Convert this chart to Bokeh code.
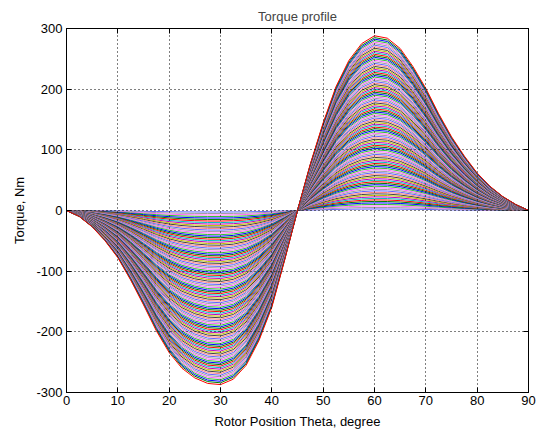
from bokeh.plotting import figure
from bokeh.models import ColumnDataSource, LinearAxis, FixedTicker, Range1d, PrintfTickFormatter
from bokeh.embed import file_html
from bokeh.resources import INLINE

# ---- data ----
theta = [0, 2.5, 5, 7.5, 10, 12.5, 15, 17.5, 20, 22.5, 25, 27.5, 30, 32.5, 35, 37.5,
         40, 42.5, 45, 47.5, 50, 52.5, 55, 57.5, 60, 62.5, 65, 67.5, 70, 72.5, 75,
         77.5, 80, 82.5, 85, 87.5, 90]
# outermost torque curve (Nm)
torque_max = [0, -10, -27, -50, -78, -115, -156, -199, -235, -261, -277, -286, -288,
              -279, -256, -215, -160, -82, 0, 77, 145, 205, 248, 276, 289, 285, 268,
              238, 202, 160, 122, 90, 62, 40, 23, 10, 0]
# peak torque of each curve of the family (Nm)
peaks = [2.5, 5, 7.5, 10, 12.5, 15, 17.5, 20, 22.5, 25, 27.5, 30, 32.5, 35, 37.5, 40,
         42.5, 45, 47.5, 50, 52.5, 55, 57.5, 60, 62.5, 65, 67.5, 70, 72.5, 75, 77.5, 80,
         82.5, 85, 87.5, 90, 92.5, 95, 97.5, 100, 102.5, 105, 107.5, 110, 112.5, 115,
         117.5, 120, 122.5, 125, 127.5, 130, 132.5, 135, 137.5, 140, 142.5, 145, 147.5,
         150, 152.5, 155, 157.5, 160, 162.5, 165, 167.5, 170, 172.5, 175, 177.5, 180,
         182.5, 185, 187.5, 190, 192.5, 195, 197.5, 200, 202.5, 205, 207.5, 210, 212.5,
         215, 217.5, 220, 222.5, 225, 227.5, 230, 232.5, 235, 237.5, 240, 242.5, 245,
         247.5, 250, 252.5, 255, 257.5, 260, 262.5, 265, 267.5, 270, 272.5, 275, 277.5,
         280, 282.5, 285, 288]
x_ticks = [0, 10, 20, 30, 40, 50, 60, 70, 80, 90]
y_ticks = [-300, -200, -100, 0, 100, 200, 300]

palette = ["#0000ff", "#008000", "#ff0000", "#00bfbf", "#bf00bf", "#bfbf00",
           "#404040", "#ff8080", "#6060ff", "#a0a0a0", "#ff60ff", "#30c030"]

ref = max(abs(v) for v in torque_max)
xs, ys, cols = [], [], []
n = len(peaks)
off = (2 - (n - 1)) % len(palette)
for i, pk in enumerate(peaks):
    xs.append(theta)
    ys.append([v * pk / ref for v in torque_max])
    cols.append(palette[(i + off) % len(palette)])
src = ColumnDataSource(dict(xs=xs, ys=ys, color=cols))

FONT = "Liberation Sans"
FS = "13px"

p = figure(width=538, height=435, output_backend="svg", toolbar_location=None,
           x_range=Range1d(0, 90), y_range=Range1d(-300, 300),
           title="Torque profile",
           min_border_left=66, min_border_right=10, min_border_top=28,
           min_border_bottom=43, x_axis_label="Rotor Position Theta, degree",
           y_axis_label="Torque, Nm")
p.background_fill_color = "white"
p.border_fill_color = "white"
p.outline_line_color = "black"
p.outline_line_width = 1

p.title.text_font = FONT
p.title.text_font_size = FS
p.title.text_font_style = "normal"
p.title.align = "center"
p.title.standoff = 10

p.multi_line("xs", "ys", color="color", line_width=1, source=src)

xb = p.below[0]
yl = p.left[0]
xt = LinearAxis()
yr = LinearAxis()
p.add_layout(xt, "above")
p.add_layout(yr, "right")

for ax in (xb, yl, xt, yr):
    ax.axis_line_color = "black"
    ax.major_tick_line_color = "black"
    ax.major_tick_in = 5
    ax.major_tick_out = 0
    ax.minor_tick_line_color = None
    ax.major_label_text_font = FONT
    ax.major_label_text_font_size = FS
    ax.major_label_text_color = "black"
    ax.axis_label_text_font = FONT
    ax.axis_label_text_font_size = FS
    ax.axis_label_text_font_style = "normal"
    ax.axis_label_text_color = "black"
    ax.formatter = PrintfTickFormatter(format="%d")

xb.ticker = FixedTicker(ticks=x_ticks)
xt.ticker = FixedTicker(ticks=x_ticks)
yl.ticker = FixedTicker(ticks=y_ticks)
yr.ticker = FixedTicker(ticks=y_ticks)
xt.major_label_overrides = {t: "" for t in x_ticks}
yr.major_label_overrides = {t: "" for t in y_ticks}
xt.major_label_standoff = 0
yr.major_label_standoff = 0

xb.major_label_standoff = 3
xb.axis_label_standoff = 6
yl.major_label_standoff = 4
yl.axis_label_standoff = 6

for g in (p.xgrid, p.ygrid):
    g.grid_line_color = "black"
    g.grid_line_dash = "1 3"
    g.grid_line_width = 1
    g.level = "overlay"
p.xgrid.ticker = FixedTicker(ticks=x_ticks)
p.ygrid.ticker = FixedTicker(ticks=y_ticks)

open("out.html", "w").write(file_html(p, INLINE))
